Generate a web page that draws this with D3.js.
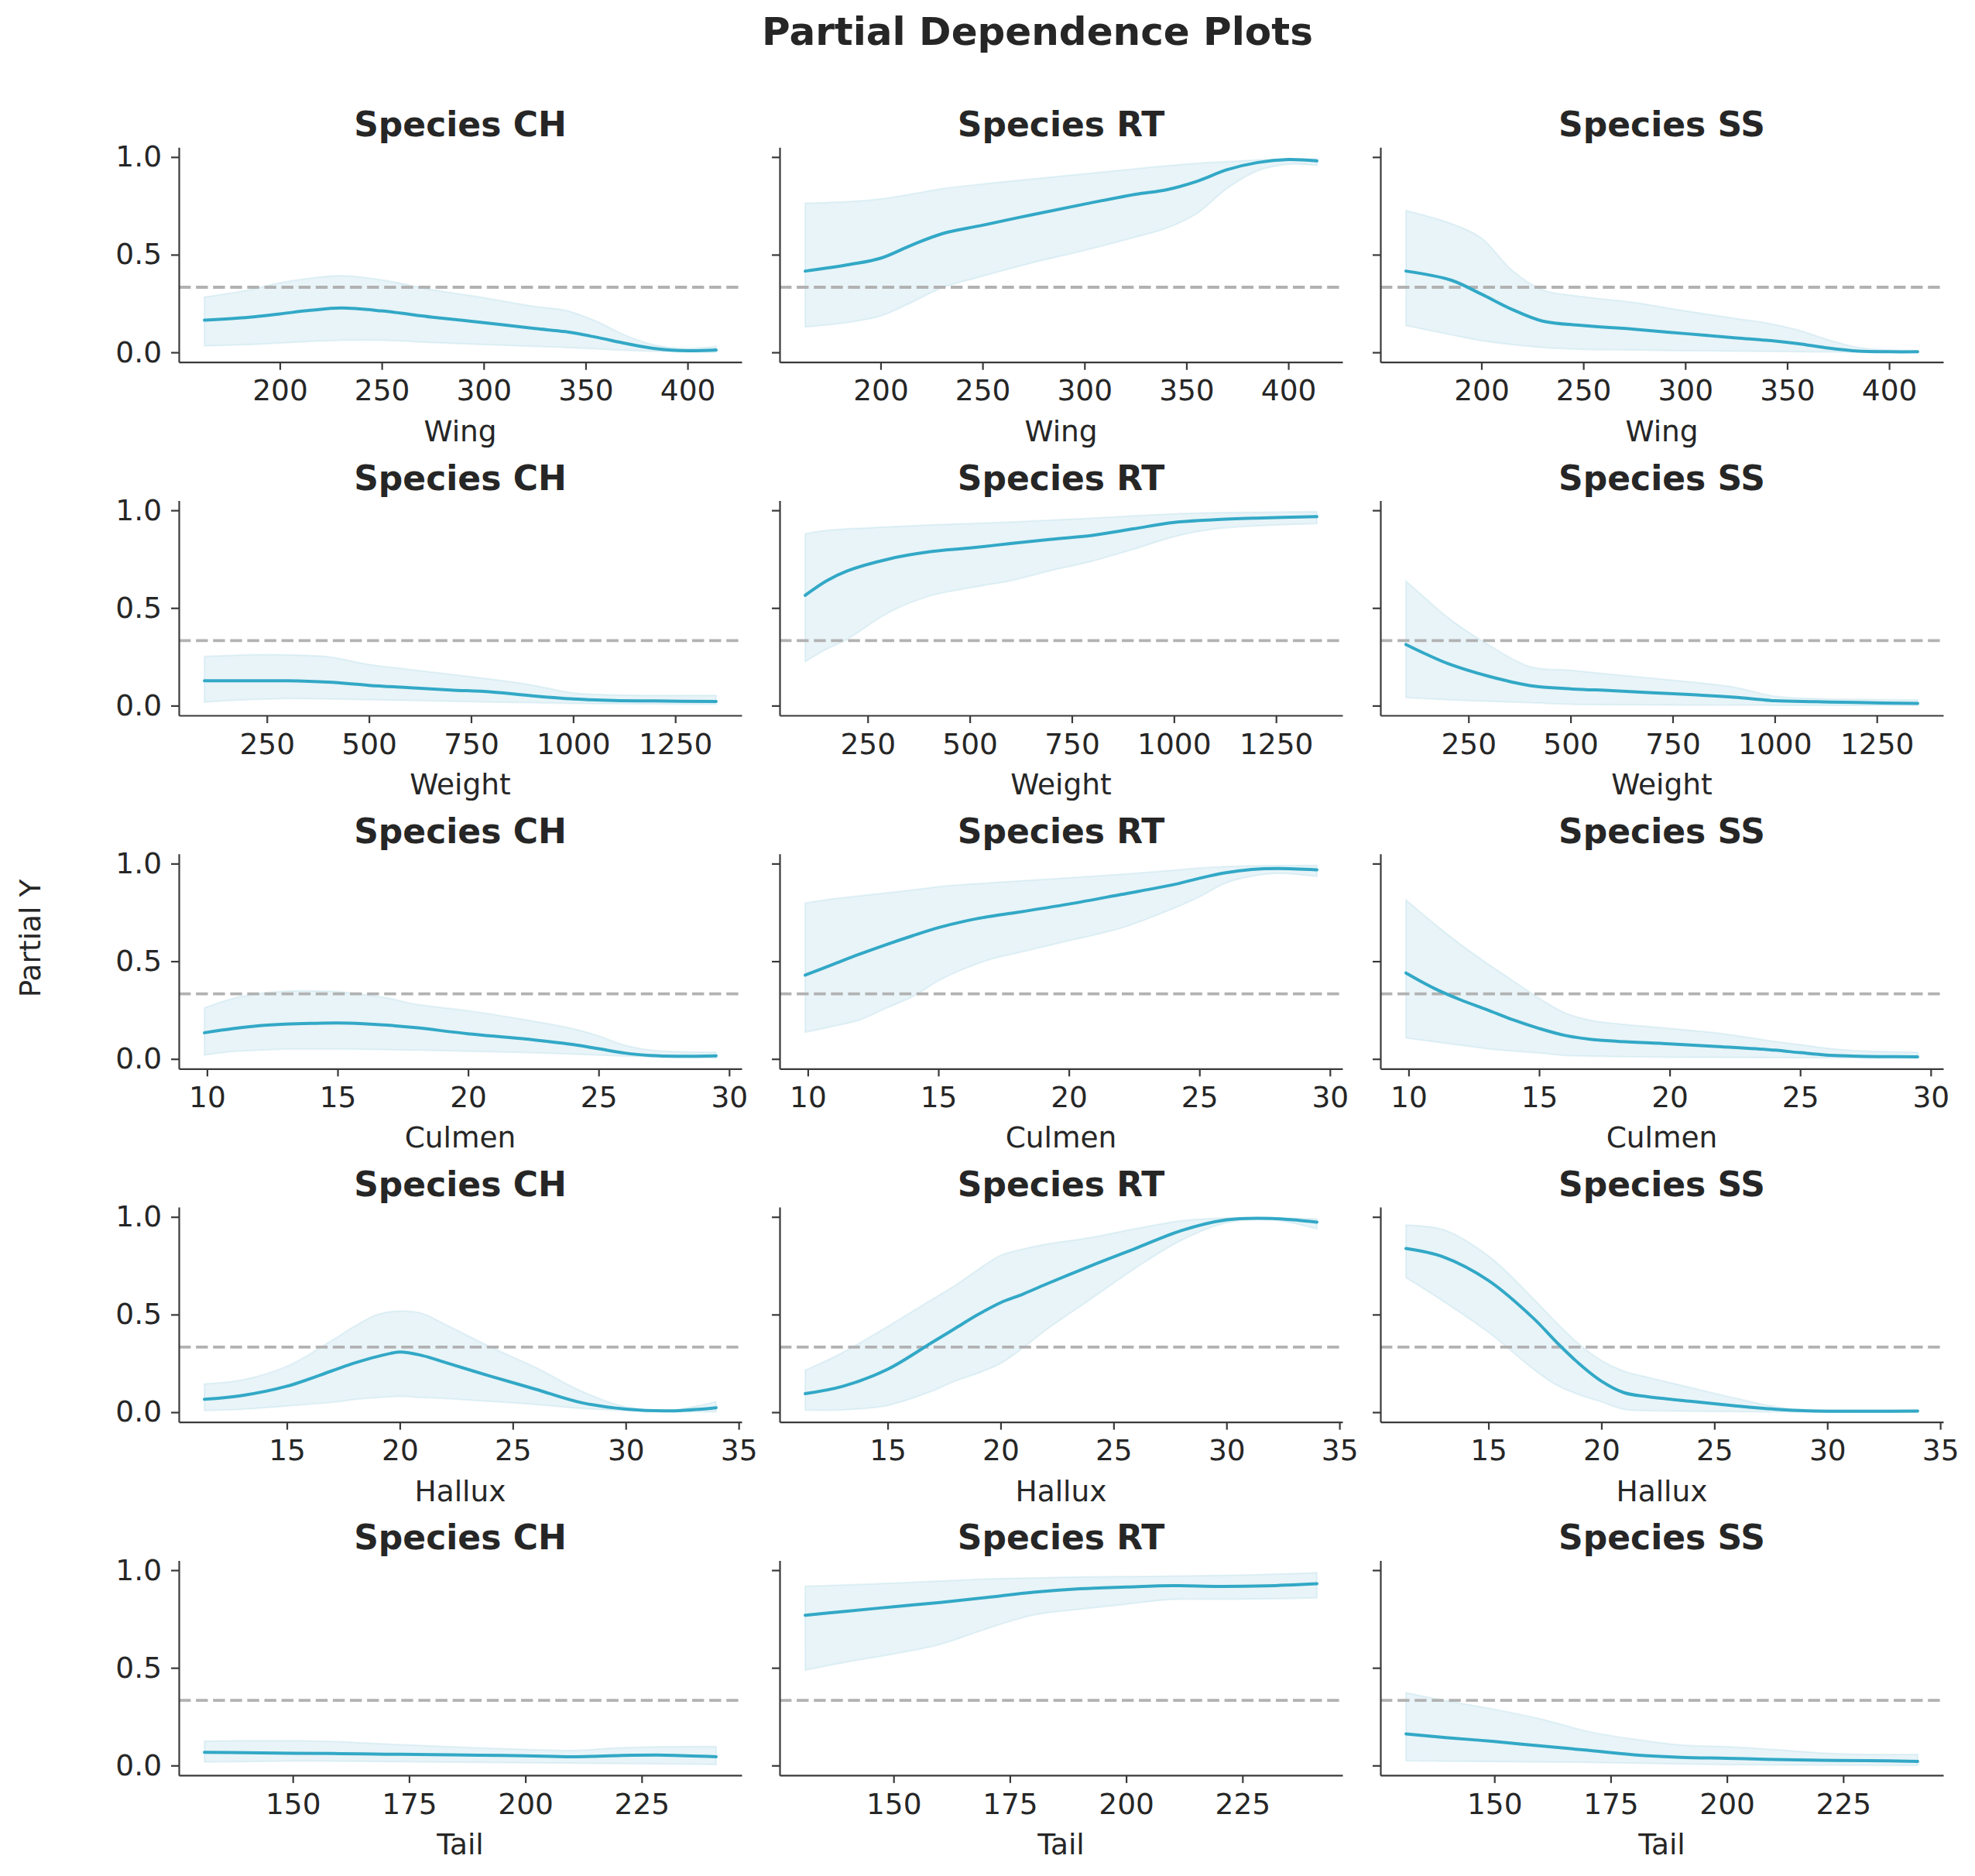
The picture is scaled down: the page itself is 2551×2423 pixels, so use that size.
<!DOCTYPE html>
<html><head><meta charset="utf-8">
<script src="https://cdn.jsdelivr.net/npm/d3@7"></script>
<style>body{margin:0;background:#fff}svg{display:block}</style>
</head><body><svg id="chart" width="2551" height="2423"></svg>
<script>
// ---------- data ----------
const featureNames = ["Wing", "Weight", "Culmen", "Hallux", "Tail"];
const speciesNames = ["CH", "RT", "SS"];
const yTickValues = [0, 0.5, 1.0];
const chanceLevel = 1 / 3;

// x grids (feature values) and tick labels
const wingX = [163, 185, 200, 215, 230, 250, 275, 300, 325, 340, 355, 370, 385, 400, 414];
const wingTicks = [200, 250, 300, 350, 400];
const weightX = [97, 150, 200, 300, 400, 500, 600, 700, 800, 900, 1000, 1100, 1200, 1350];
const weightTicks = [250, 500, 750, 1000, 1250];
const culmenX = [9.9, 11, 12, 13, 14, 15, 16, 17, 18, 20, 22, 24, 25, 26, 27, 28, 29.5];
const culmenTicks = [10, 15, 20, 25, 30];
const halluxX = [11.35, 13, 15, 17, 18, 19, 20, 21, 22, 24, 26, 28, 30, 32, 34];
const halluxTicks = [15, 20, 25, 30, 35];
const tailX = [131, 140, 150, 160, 170, 180, 190, 200, 210, 220, 230, 241];
const tailTicks = [150, 175, 200, 225];

// Wing
const wingCH_mean = [.165,.18,.197,.215,.227,.212,.18,.152,.122,.106,.078,.045,.018,.008,.012];
const wingCH_hi   = [.283,.32,.356,.38,.393,.371,.32,.28,.235,.215,.16,.085,.035,.02,.03];
const wingCH_lo   = [.033,.04,.048,.056,.062,.062,.05,.04,.03,.025,.018,.01,.005,.002,.0];
const wingRT_mean = [.416,.45,.482,.548,.607,.651,.706,.759,.809,.832,.875,.935,.972,.987,.98];
const wingRT_hi   = [.763,.772,.785,.81,.838,.862,.888,.914,.94,.955,.968,.976,.985,.99,.99];
const wingRT_lo   = [.13,.155,.186,.255,.33,.39,.46,.522,.59,.635,.71,.84,.93,.963,.957];
const wingSS_mean = [.416,.37,.298,.22,.16,.137,.118,.096,.074,.062,.045,.022,.006,.003,.003];
const wingSS_hi   = [.726,.66,.585,.42,.32,.285,.255,.212,.173,.15,.115,.065,.025,.012,.008];
const wingSS_lo   = [.137,.09,.06,.04,.025,.015,.012,.008,.006,.005,.003,.002,.001,.0,.0];

// Weight
const weightCH_mean = [.127,.127,.127,.127,.12,.104,.092,.08,.07,.05,.034,.026,.024,.021];
const weightCH_hi   = [.252,.256,.26,.26,.25,.211,.185,.16,.135,.105,.065,.055,.052,.052];
const weightCH_lo   = [.018,.025,.03,.036,.034,.03,.027,.022,.018,.015,.011,.009,.008,.007];
const weightRT_mean = [.565,.64,.69,.75,.787,.807,.83,.852,.872,.905,.938,.952,.96,.968];
const weightRT_hi   = [.88,.897,.905,.915,.925,.932,.94,.95,.96,.972,.982,.988,.99,.993];
const weightRT_lo   = [.225,.29,.34,.475,.56,.603,.64,.692,.74,.8,.865,.905,.92,.932];
const weightSS_mean = [.313,.26,.215,.15,.103,.086,.077,.066,.056,.043,.025,.02,.016,.011];
const weightSS_hi   = [.637,.54,.45,.31,.2,.181,.16,.14,.12,.095,.048,.036,.032,.029];
const weightSS_lo   = [.041,.035,.03,.022,.015,.007,.005,.004,.003,.003,.002,.002,.002,.002];

// Culmen
const culmenCH_mean = [.134,.155,.17,.178,.182,.184,.18,.172,.16,.129,.105,.074,.052,.03,.018,.014,.016];
const culmenCH_hi   = [.261,.31,.335,.347,.348,.345,.33,.31,.28,.247,.205,.155,.118,.07,.045,.037,.034];
const culmenCH_lo   = [.02,.038,.045,.05,.05,.05,.049,.047,.045,.039,.033,.025,.02,.015,.01,.007,.005];
const culmenRT_mean = [.429,.486,.537,.585,.63,.672,.705,.73,.75,.793,.842,.892,.925,.953,.97,.975,.968];
const culmenRT_hi   = [.798,.82,.835,.85,.865,.882,.893,.902,.91,.927,.945,.966,.978,.985,.989,.99,.991];
const culmenRT_lo   = [.136,.168,.2,.26,.318,.4,.462,.51,.542,.605,.67,.77,.83,.9,.935,.95,.934];
const culmenSS_mean = [.44,.36,.302,.252,.2,.156,.12,.1,.09,.077,.062,.045,.032,.02,.015,.012,.011];
const culmenSS_hi   = [.814,.69,.585,.49,.4,.311,.235,.197,.18,.156,.13,.09,.073,.055,.043,.038,.034];
const culmenSS_lo   = [.107,.088,.07,.052,.04,.03,.018,.014,.012,.009,.008,.007,.006,.006,.005,.005,.005];

// Hallux
const halluxCH_mean = [.066,.085,.133,.212,.252,.285,.308,.29,.255,.185,.118,.05,.016,.007,.023];
const halluxCH_hi   = [.145,.165,.235,.368,.44,.5,.518,.505,.45,.335,.23,.11,.027,.012,.054];
const halluxCH_lo   = [.009,.015,.032,.05,.065,.075,.081,.075,.07,.055,.04,.02,.009,.004,.002];
const halluxRT_mean = [.095,.132,.22,.36,.43,.5,.561,.605,.655,.75,.84,.93,.985,.992,.973];
const halluxRT_hi   = [.215,.305,.439,.58,.65,.73,.803,.835,.86,.895,.94,.98,.995,.995,.99];
const halluxRT_lo   = [.011,.012,.035,.11,.16,.2,.25,.33,.42,.58,.74,.88,.97,.985,.939];
const halluxSS_mean = [.838,.795,.674,.48,.36,.25,.159,.1,.08,.055,.032,.013,.005,.005,.006];
const halluxSS_hi   = [.958,.935,.80,.58,.46,.35,.265,.21,.18,.125,.07,.023,.012,.011,.011];
const halluxSS_lo   = [.689,.568,.409,.22,.14,.09,.053,.015,.008,.005,.003,.002,.001,.0,.0];

// Tail
const tailCH_mean = [.068,.066,.063,.061,.058,.056,.053,.05,.045,.051,.053,.045];
const tailCH_hi   = [.125,.127,.127,.122,.11,.1,.09,.082,.077,.09,.096,.097];
const tailCH_lo   = [.018,.02,.023,.022,.02,.018,.016,.014,.012,.01,.008,.005];
const tailRT_mean = [.769,.79,.813,.835,.86,.887,.905,.914,.921,.917,.92,.931];
const tailRT_hi   = [.918,.925,.934,.945,.955,.96,.965,.967,.97,.973,.978,.987];
const tailRT_lo   = [.488,.53,.571,.62,.7,.77,.8,.826,.85,.851,.853,.858];
const tailSS_mean = [.162,.142,.123,.1,.078,.055,.042,.037,.031,.027,.025,.021];
const tailSS_hi   = [.373,.33,.288,.238,.175,.135,.105,.096,.082,.065,.057,.057];
const tailSS_lo   = [.024,.022,.02,.018,.016,.012,.008,.004,.003,.002,.001,.0];

// ---------- assemble ----------
const rowsDef = [
  {name: "Wing", x: wingX, ticks: wingTicks, panels: [
    [wingCH_mean, wingCH_lo, wingCH_hi], [wingRT_mean, wingRT_lo, wingRT_hi], [wingSS_mean, wingSS_lo, wingSS_hi]]},
  {name: "Weight", x: weightX, ticks: weightTicks, panels: [
    [weightCH_mean, weightCH_lo, weightCH_hi], [weightRT_mean, weightRT_lo, weightRT_hi], [weightSS_mean, weightSS_lo, weightSS_hi]]},
  {name: "Culmen", x: culmenX, ticks: culmenTicks, panels: [
    [culmenCH_mean, culmenCH_lo, culmenCH_hi], [culmenRT_mean, culmenRT_lo, culmenRT_hi], [culmenSS_mean, culmenSS_lo, culmenSS_hi]]},
  {name: "Hallux", x: halluxX, ticks: halluxTicks, panels: [
    [halluxCH_mean, halluxCH_lo, halluxCH_hi], [halluxRT_mean, halluxRT_lo, halluxRT_hi], [halluxSS_mean, halluxSS_lo, halluxSS_hi]]},
  {name: "Tail", x: tailX, ticks: tailTicks, panels: [
    [tailCH_mean, tailCH_lo, tailCH_hi], [tailRT_mean, tailRT_lo, tailRT_hi], [tailSS_mean, tailSS_lo, tailSS_hi]]}
];

// ---------- layout ----------
const FONT = "'DejaVu Sans', Verdana, sans-serif";
const colLeft = [231, 1007, 1783];
const axW = 727;
const rowTop0 = 190.2, rowPitch = 456.3, axH = 277.5;
const lineColor = "#32a8c6";
const bandColor = "#add8e6";
const textColor = "#262626";
const spineColor = "#3a3a3a";
const curve = d3.curveCatmullRom.alpha(0.5);

const svg = d3.select("#chart");

svg.append("text")
  .attr("x", 1340).attr("y", 58)
  .attr("text-anchor", "middle")
  .attr("font-family", FONT).attr("font-weight", "bold").attr("font-size", 50)
  .attr("fill", textColor)
  .text("Partial Dependence Plots");

svg.append("text")
  .attr("transform", "translate(52,1212) rotate(-90)")
  .attr("text-anchor", "middle")
  .attr("font-family", FONT).attr("font-size", 37.5)
  .attr("fill", textColor)
  .text("Partial Y");

rowsDef.forEach((row, ri) => {
  const top = rowTop0 + ri * rowPitch;
  const bottom = top + axH;
  const xmin = d3.min(row.x), xmax = d3.max(row.x), pad = 0.05 * (xmax - xmin);
  row.panels.forEach((pnl, ci) => {
    const left = colLeft[ci];
    const x = d3.scaleLinear().domain([xmin - pad, xmax + pad]).range([left, left + axW]);
    const y = d3.scaleLinear().domain([-0.05, 1.05]).range([bottom, top]);
    const g = svg.append("g");
    const [mean, lo, hi] = pnl;
    const pts = row.x.map((v, i) => ({x: v, m: mean[i], lo: lo[i], hi: hi[i]}));

    // band
    g.append("path").datum(pts)
      .attr("d", d3.area().curve(curve).x(d => x(d.x)).y0(d => y(d.lo)).y1(d => y(d.hi)))
      .attr("fill", bandColor).attr("fill-opacity", 0.28)
      .attr("stroke", bandColor).attr("stroke-opacity", 0.3).attr("stroke-width", 2);

    // chance line
    g.append("line")
      .attr("x1", left).attr("x2", left + axW)
      .attr("y1", y(chanceLevel)).attr("y2", y(chanceLevel))
      .attr("stroke", "#b2b2b2").attr("stroke-width", 3.8)
      .attr("stroke-dasharray", "15.4,6.7");

    // mean line
    g.append("path").datum(pts)
      .attr("d", d3.line().curve(curve).x(d => x(d.x)).y(d => y(d.m)))
      .attr("fill", "none").attr("stroke", lineColor).attr("stroke-width", 4)
      .attr("stroke-linecap", "round").attr("stroke-linejoin", "round");

    // axes
    const xa = g.append("g").attr("transform", `translate(0,${bottom})`)
      .call(d3.axisBottom(x).tickValues(row.ticks).tickSize(10).tickSizeOuter(0).tickPadding(13).tickFormat(d3.format("d")));
    const ya = g.append("g").attr("transform", `translate(${left},0)`)
      .call(d3.axisLeft(y).tickValues(yTickValues).tickSize(10).tickSizeOuter(0).tickPadding(12)
        .tickFormat(ci === 0 ? d3.format(".1f") : () => ""));
    [xa, ya].forEach(a => {
      a.select(".domain").attr("stroke", spineColor).attr("stroke-width", 2.2);
      a.selectAll(".tick line").attr("stroke", spineColor).attr("stroke-width", 2.2);
      a.selectAll(".tick text").attr("font-family", FONT).attr("font-size", 37.5).attr("fill", textColor);
    });

    // titles
    g.append("text")
      .attr("x", left + axW / 2).attr("y", top - 14)
      .attr("text-anchor", "middle")
      .attr("font-family", FONT).attr("font-weight", "bold").attr("font-size", 44)
      .attr("fill", textColor)
      .text("Species " + speciesNames[ci]);
    g.append("text")
      .attr("x", left + axW / 2).attr("y", bottom + 102)
      .attr("text-anchor", "middle")
      .attr("font-family", FONT).attr("font-size", 37.5)
      .attr("fill", textColor)
      .text(row.name);
  });
});
</script>
</body></html>
